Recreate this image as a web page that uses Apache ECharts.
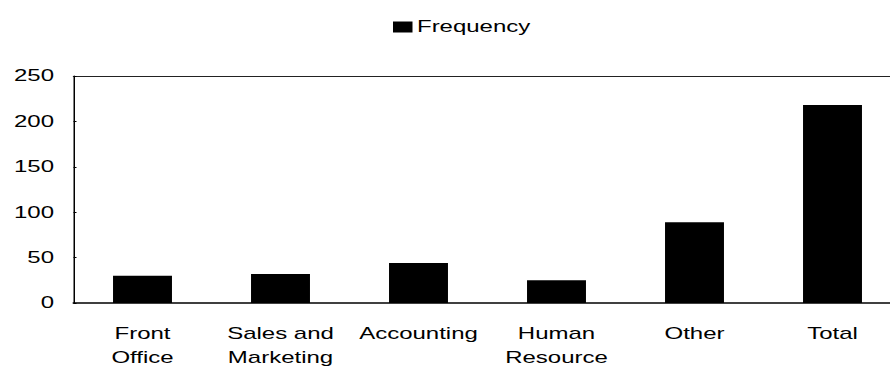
<!DOCTYPE html>
<html>
<head>
<meta charset="utf-8">
<script src="https://cdn.jsdelivr.net/npm/echarts@6/dist/echarts.min.js"></script>
<style>
  html, body { margin: 0; padding: 0; background: #fff; overflow: hidden; }
  /* the chart is laid out narrow and widened 1.5x, giving the broad lettering;
     its right end runs just past the window edge */
  #chart { width: 601px; height: 370px; transform: scaleX(1.5); transform-origin: 0 0; }
</style>
</head>
<body>
<div id="chart"></div>
<script>
// Departments and how often each was named
const categories = ['Front\nOffice', 'Sales and\nMarketing', 'Accounting', 'Human\nResource', 'Other', 'Total'];
const frequency = [30, 32, 44, 25, 89, 218];
const yTicks = [0, 50, 100, 150, 200, 250];

const font = 'Liberation Sans, Arial, sans-serif';

const chart = echarts.init(document.getElementById('chart'), null, { renderer: 'svg' });
chart.setOption({
  animation: false,
  textStyle: { fontFamily: font },
  legend: {
    data: ['Frequency'],
    left: 257,
    top: 14,
    icon: 'rect',
    itemWidth: 13,
    itemHeight: 11,
    itemGap: 3,
    textStyle: { fontFamily: font, fontSize: 16, color: '#000', padding: [0, 0, 0, -2] }
  },
  grid: { left: 49, top: 76, right: 0, bottom: 67, containLabel: false },
  xAxis: [{
    type: 'category',
    data: categories,
    axisLine: { lineStyle: { color: '#000', width: 1.5 } },
    axisTick: { show: false },
    axisLabel: {
      color: '#000',
      fontFamily: font,
      fontSize: 16,
      lineHeight: 24,
      margin: 19,
      interval: 0
    }
  }, {
    // thin rule closing the plot at the top
    type: 'category',
    position: 'top',
    data: categories,
    axisLine: { lineStyle: { color: '#222', width: 1 } },
    axisTick: { show: false },
    axisLabel: { show: false }
  }],
  yAxis: {
    type: 'value',
    min: 0,
    max: yTicks[yTicks.length - 1],
    interval: 50,
    axisLine: { show: true, lineStyle: { color: '#000', width: 1 } },
    axisTick: { show: true, length: 2, inside: true, lineStyle: { color: '#000' } },
    splitLine: { show: false },
    axisLabel: {
      color: '#000',
      fontFamily: font,
      fontSize: 16,
      margin: 13
    }
  },
  series: [{
    name: 'Frequency',
    type: 'bar',
    xAxisIndex: 0,
    data: frequency,
    barWidth: 39.3,
    itemStyle: { color: '#000' }
  }]
});
</script>
</body>
</html>
